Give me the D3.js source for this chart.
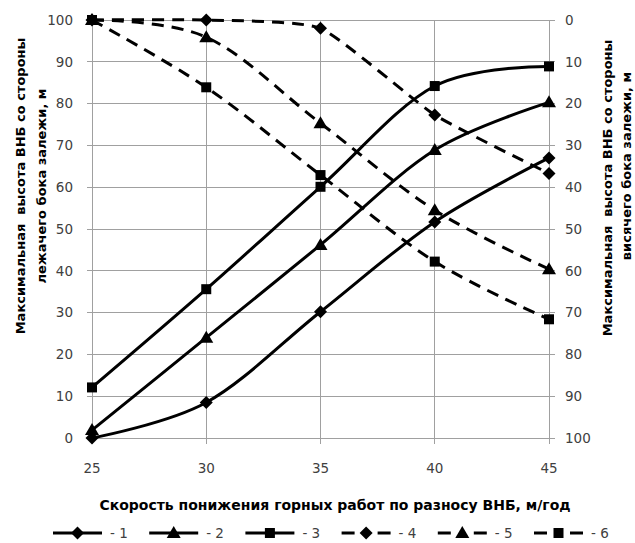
<!DOCTYPE html>
<html><head><meta charset="utf-8">
<script src="https://cdn.jsdelivr.net/npm/d3@7"></script>
<style>body{margin:0;background:#fff}svg{display:block}</style>
</head><body>
<svg id="c" width="635" height="543"></svg>
<script>
const xValues = [25, 30, 35, 40, 45];
const s1 = [0, 8.5, 30.2, 51.7, 67];
const s2 = [1.9, 24, 46.2, 68.9, 80.3];
const s3 = [12.1, 35.6, 60.1, 84.2, 88.9];
const s4 = [0, 0, 2, 22.7, 36.7];
const s5 = [0, 4.1, 24.7, 45.5, 59.6];
const s6 = [0, 16.1, 37.1, 57.8, 71.6];
const seriesNames = ["- 1", "- 2", "- 3", "- 4", "- 5", "- 6"];
const xTicks = [25, 30, 35, 40, 45];
const yTicks = [0, 10, 20, 30, 40, 50, 60, 70, 80, 90, 100];
const xTitle = "Скорость понижения горных работ по разносу ВНБ, м/год";
const yLeftTitle = ["Максимальная  высота ВНБ со стороны", "лежачего бока залежи, м"];
const yRightTitle = ["Максимальная  высота ВНБ со стороны", "висячего бока залежи, м"];

const svg = d3.select("#c");
const L = 92, R = 549, T = 20, B = 438;
const x = d3.scaleLinear().domain([25, 45]).range([L, R]);
const yL = d3.scaleLinear().domain([0, 100]).range([B, T]);
const yR = d3.scaleLinear().domain([0, 100]).range([T, B]);
const font = "'DejaVu Sans', Verdana, sans-serif";
const grid = "#a0a0a0";
const txt = "#404040";

// grid
svg.append("g").selectAll("line").data(yTicks).join("line")
  .attr("x1", L - 5).attr("x2", R + 6)
  .attr("y1", d => yL(d)).attr("y2", d => yL(d))
  .attr("stroke", grid).attr("stroke-width", 1).attr("shape-rendering", "crispEdges");
svg.append("g").selectAll("line").data(xTicks).join("line")
  .attr("x1", d => x(d)).attr("x2", d => x(d))
  .attr("y1", T).attr("y2", B + 6)
  .attr("stroke", grid).attr("stroke-width", 1).attr("shape-rendering", "crispEdges");

// tick labels
svg.append("g").selectAll("text").data(yTicks).join("text")
  .attr("x", L - 19).attr("y", d => yL(d)).attr("dy", "0.36em")
  .attr("text-anchor", "end").attr("font-family", font).attr("font-size", 13.5)
  .attr("fill", txt).text(d => d);
svg.append("g").selectAll("text").data(yTicks).join("text")
  .attr("x", R + 16).attr("y", d => yR(d)).attr("dy", "0.36em")
  .attr("text-anchor", "start").attr("font-family", font).attr("font-size", 13.5)
  .attr("fill", txt).text(d => d);
svg.append("g").selectAll("text").data(xTicks).join("text")
  .attr("x", d => x(d)).attr("y", 468).attr("dy", "0.36em")
  .attr("text-anchor", "middle").attr("font-family", font).attr("font-size", 13.5)
  .attr("fill", txt).text(d => d);

// titles
svg.append("text").attr("x", 335).attr("y", 505).attr("dy", "0.36em")
  .attr("text-anchor", "middle").attr("font-family", font).attr("font-weight", "bold")
  .attr("font-size", 14).attr("fill", "#000").text(xTitle);
function vtitle(cx, cy, t) {
  svg.append("text").attr("transform", `translate(${cx},${cy}) rotate(-90)`)
    .attr("dy", "0.36em").attr("text-anchor", "middle").attr("font-family", font)
    .attr("font-weight", "bold").attr("font-size", 13).attr("fill", "#000")
    .style("white-space", "pre").text(t);
}
vtitle(20, 186, yLeftTitle[0]);
vtitle(41, 186, yLeftTitle[1]);
vtitle(607, 188, yRightTitle[0]);
vtitle(626, 166, yRightTitle[1]);

// markers
function marker(g, type, cx, cy) {
  if (type === "diamond") {
    g.append("path").attr("d", `M${cx},${cy-6.5}L${cx+6.5},${cy}L${cx},${cy+6.5}L${cx-6.5},${cy}Z`).attr("fill", "#000");
  } else if (type === "triangle") {
    g.append("path").attr("d", `M${cx},${cy-7}L${cx+7},${cy+5}L${cx-7},${cy+5}Z`).attr("fill", "#000");
  } else {
    g.append("rect").attr("x", cx - 5).attr("y", cy - 5).attr("width", 10).attr("height", 10).attr("fill", "#000");
  }
}

const smooth = d3.curveCatmullRom.alpha(0);
const series = [
  {vals: s1, y: yL, m: "diamond", dash: null, curve: smooth},
  {vals: s2, y: yL, m: "triangle", dash: null, curve: smooth},
  {vals: s3, y: yL, m: "square", dash: null, curve: smooth},
  {vals: s4, y: yR, m: "diamond", dash: "12,8", curve: d3.curveCardinal.tension(0.5)},
  {vals: s5, y: yR, m: "triangle", dash: "12,8", curve: smooth},
  {vals: s6, y: yR, m: "square", dash: "12,8", curve: smooth},
];
const plot = svg.append("g");
series.forEach(s => {
  const pts = xValues.map((xv, i) => [x(xv), s.y(s.vals[i])]);
  const line = d3.line().curve(s.curve);
  plot.append("path").attr("d", line(pts)).attr("fill", "none")
    .attr("stroke", "#000").attr("stroke-width", 3)
    .attr("stroke-dasharray", s.dash);
});
series.forEach(s => {
  xValues.forEach((xv, i) => marker(plot, s.m, x(xv), s.y(s.vals[i])));
});

// legend
const lg = svg.append("g");
const ly = 533;
series.forEach((s, i) => {
  const x0 = 53 + i * 96.2;
  lg.append("line").attr("x1", x0).attr("x2", x0 + 49).attr("y1", ly).attr("y2", ly)
    .attr("stroke", "#000").attr("stroke-width", 3)
    .attr("stroke-dasharray", s.dash ? "13,23" : null);
  marker(lg, s.m, x0 + 24.5, ly);
  lg.append("text").attr("x", x0 + 57).attr("y", ly).attr("dy", "0.36em")
    .attr("font-family", font).attr("font-size", 13.5).attr("fill", txt)
    .style("white-space", "pre").text(seriesNames[i]);
});
</script>
</body></html>
